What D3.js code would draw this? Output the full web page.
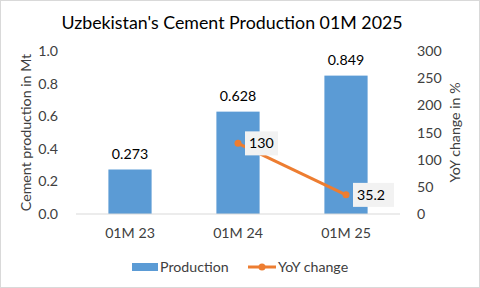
<!DOCTYPE html>
<html>
<head>
<meta charset="utf-8">
<script src="https://cdn.jsdelivr.net/npm/d3@7"></script>
<style>
  body { margin: 0; background: #fff; }
  svg { font-family: Lato, 'Open Sans', sans-serif; }
</style>
</head>
<body>
<div id="chart"></div>
<script>
const categories = ['01M 23', '01M 24', '01M 25']
const production = [0.273, 0.628, 0.849]
const yoyCategories = ['01M 24', '01M 25']
const yoyChange = [130, 35.2]
const leftTicks = [0, 0.2, 0.4, 0.6, 0.8, 1.0]
const rightTicks = [0, 50, 100, 150, 200, 250, 300]

const width = 480
const height = 288
const margin = { top: 51, right: 80, bottom: 74, left: 76 }
const fs = 14.2

const svg = d3.select('#chart').append('svg')
  .attr('width', width)
  .attr('height', height)

svg.append('rect')
  .attr('x', 0.5).attr('y', 0.5)
  .attr('width', width - 1).attr('height', height - 1)
  .attr('fill', '#fff')
  .attr('stroke', '#d9d9d9')

const x = d3.scaleBand()
  .domain(categories)
  .range([margin.left, width - margin.right])
  .paddingInner(0.6)
  .paddingOuter(0.3)

const yLeft = d3.scaleLinear().domain([0, 1]).range([height - margin.bottom, margin.top])
const yRight = d3.scaleLinear().domain([0, 300]).range([height - margin.bottom, margin.top])

svg.append('text')
  .attr('x', 232).attr('y', 29)
  .attr('text-anchor', 'middle')
  .attr('font-size', 17.8)
  .attr('fill', '#000')
  .text("Uzbekistan's Cement Production 01M 2025")

// left axis
const leftAxis = svg.append('g')
  .attr('transform', `translate(${margin.left},0)`)
  .call(d3.axisLeft(yLeft).tickValues(leftTicks).tickFormat(d3.format('.1f')).tickSize(0).tickPadding(18))
leftAxis.select('.domain').remove()
leftAxis.selectAll('text').attr('font-size', fs).attr('fill', '#404040').attr('font-family', 'Lato, sans-serif')

// right axis
const rightAxis = svg.append('g')
  .attr('transform', `translate(${width - margin.right},0)`)
  .call(d3.axisRight(yRight).tickValues(rightTicks).tickSize(0).tickPadding(17))
rightAxis.select('.domain').remove()
rightAxis.selectAll('text').attr('font-size', fs).attr('fill', '#404040').attr('font-family', 'Lato, sans-serif')

// bars
svg.selectAll('rect.bar').data(production).enter().append('rect')
  .attr('class', 'bar')
  .attr('x', (d, i) => x(categories[i]))
  .attr('y', d => yLeft(d))
  .attr('width', x.bandwidth())
  .attr('height', d => yLeft(0) - yLeft(d))
  .attr('fill', '#5b9bd5')

svg.selectAll('text.barlabel').data(production).enter().append('text')
  .attr('class', 'barlabel')
  .attr('x', (d, i) => x(categories[i]) + x.bandwidth() / 2)
  .attr('y', d => yLeft(d) - 11)
  .attr('text-anchor', 'middle')
  .attr('font-size', fs)
  .attr('fill', '#000')
  .text(d => d3.format('.3f')(d))

// baseline
svg.append('line')
  .attr('x1', margin.left).attr('x2', width - margin.right)
  .attr('y1', yLeft(0)).attr('y2', yLeft(0))
  .attr('stroke', '#d9d9d9')

// x labels
svg.append('g')
  .attr('transform', `translate(0,${yLeft(0)})`)
  .call(d3.axisBottom(x).tickSize(0).tickPadding(14))
  .call(g => g.select('.domain').remove())
  .selectAll('text').attr('font-size', fs).attr('fill', '#404040').attr('font-family', 'Lato, sans-serif')

// YoY line
const cx = c => x(c) + x.bandwidth() / 2
const line = d3.line().x((d, i) => cx(yoyCategories[i])).y(d => yRight(d))
svg.append('path')
  .datum(yoyChange)
  .attr('d', line)
  .attr('fill', 'none')
  .attr('stroke', '#ed7d31')
  .attr('stroke-width', 3)

svg.selectAll('circle.pt').data(yoyChange).enter().append('circle')
  .attr('class', 'pt')
  .attr('cx', (d, i) => cx(yoyCategories[i]))
  .attr('cy', d => yRight(d))
  .attr('r', 3.5)
  .attr('fill', '#ed7d31')

const yoyLabels = svg.selectAll('g.yoylabel').data(yoyChange).enter().append('g')
  .attr('class', 'yoylabel')
  .attr('transform', (d, i) => `translate(${cx(yoyCategories[i]) + 7},${yRight(d)})`)
yoyLabels.append('rect')
  .attr('x', 0).attr('y', -12)
  .attr('width', d => d === 130 ? 33 : 41)
  .attr('height', 24)
  .attr('fill', '#f2f2f2')
yoyLabels.append('text')
  .attr('x', 4).attr('y', 5)
  .attr('font-size', fs)
  .attr('fill', '#000')
  .text(d => d)

// axis titles
svg.append('text')
  .attr('transform', `translate(31,${(yLeft(0) + yLeft(1)) / 2}) rotate(-90)`)
  .attr('text-anchor', 'middle')
  .attr('font-size', fs)
  .attr('fill', '#404040')
  .text('Cement production  in Mt')

svg.append('text')
  .attr('transform', `translate(460,${(yLeft(0) + yLeft(1)) / 2}) rotate(-90)`)
  .attr('text-anchor', 'middle')
  .attr('font-size', fs)
  .attr('fill', '#404040')
  .text('YoY change in %')

// legend
const legend = svg.append('g').attr('transform', 'translate(0,267)')
legend.append('rect')
  .attr('x', 132).attr('y', -4).attr('width', 26).attr('height', 8)
  .attr('fill', '#5b9bd5')
legend.append('text')
  .attr('x', 160).attr('y', 5)
  .attr('font-size', fs).attr('fill', '#404040')
  .text('Production')
legend.append('line')
  .attr('x1', 248).attr('x2', 276).attr('y1', 0).attr('y2', 0)
  .attr('stroke', '#ed7d31').attr('stroke-width', 3)
legend.append('circle')
  .attr('cx', 262).attr('cy', 0).attr('r', 3.5)
  .attr('fill', '#ed7d31')
legend.append('text')
  .attr('x', 278).attr('y', 5)
  .attr('font-size', fs).attr('fill', '#404040')
  .text('YoY change')
</script>
</body>
</html>
